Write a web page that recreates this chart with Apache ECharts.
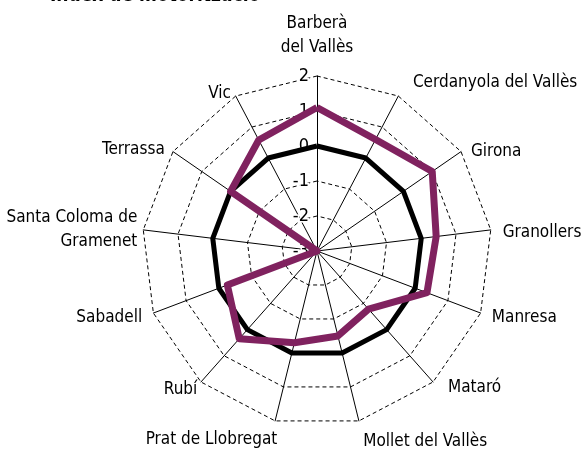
<!DOCTYPE html>
<html>
<head>
<meta charset="utf-8">
<script src="https://cdn.jsdelivr.net/npm/echarts@6/dist/echarts.min.js"></script>
<style>
  html, body { margin: 0; padding: 0; background: #fff; }
  #main { width: 581px; height: 449px; }
</style>
</head>
<body>
<div id="main"></div>
<script>
// municipis (eixos del radar, en sentit horari des de dalt)
var municipis = [
  "Barberà\ndel Vallès", "Cerdanyola del Vallès", "Girona", "Granollers",
  "Manresa", "Mataró", "Mollet del Vallès", "Prat de Llobregat", "Rubí",
  "Sabadell", "Santa Coloma de\nGramenet", "Terrassa", "Vic"
];
// valors estandarditzats
var referencia = [0, 0, 0, 0, 0, 0, 0, 0, 0, 0, 0, 0, 0];
var motoritzacio = [1.1, 0.6, 1.0, 0.43, 0.36, -0.78, -0.5, -0.3, 0.35, -0.26, -3, 0.0, 0.58];
var escalaMin = -3;
var escalaMax = 2;

var font = "'DejaVu Sans Condensed', 'Liberation Sans Narrow', sans-serif";

// petits ajustos de la posicio de cada nom
var ajustNoms = [
  { gap: 16 },
  { gap: 12, va: "bottom", lh: 6, pad: [0, 0, 0, 9] },
  { gap: 12, va: "top", lh: 14 },
  { gap: 12, va: "top", lh: 8 },
  { gap: 12 },
  { gap: 12, va: "bottom", lh: 6, pad: [0, 0, 0, 7] },
  { gap: 18, va: "top", lh: 6 },
  { gap: 16, va: "top", lh: 6, pad: [0, -6, 0, 0] },
  { gap: 10, pad: [0, -3, 0, 0] },
  { gap: 12 },
  { gap: 6 },
  { gap: 10, va: "top", lh: 8 },
  { gap: 10, va: "top", lh: 12 }
];

// el radar d'echarts va en sentit antihorari: es giren els eixos 1..n
function horari(arr) {
  return [arr[0]].concat(arr.slice(1).reverse());
}

var ajustHorari = horari(ajustNoms);
var indicadors = horari(municipis).map(function (m, i) {
  var a = ajustHorari[i];
  var estil = {};
  if (a.va) { estil.verticalAlign = a.va; estil.lineHeight = a.lh; }
  if (a.pad) { estil.padding = a.pad; }
  var ind = { name: m, min: escalaMin, max: escalaMax, nameGap: a.gap, nameTextStyle: estil };
  if (i === 0) {
    ind.axisLabel = { show: true };
  }
  return ind;
});

var chart = echarts.init(document.getElementById("main"));
chart.setOption({
  animation: false,
  title: {
    text: "Índex de motorització",
    left: 45,
    top: -18,
    textStyle: { fontFamily: font, fontSize: 19, fontWeight: "bold", color: "#000" }
  },
  radar: {
    center: [317, 251],
    radius: 175,
    startAngle: 90,
    splitNumber: 5,
    shape: "polygon",
    nameGap: 12,
    axisName: {
      color: "#000",
      fontFamily: font,
      fontSize: 17,
      lineHeight: 24
    },
    axisLine: { lineStyle: { color: "#000", width: 1 } },
    splitLine: { lineStyle: { color: "#000", width: 1, type: [4, 3] } },
    splitArea: { show: false },
    axisTick: { show: false },
    axisLabel: {
      show: false,
      color: "#000",
      fontFamily: font,
      fontSize: 18,
      margin: 8,
      textBorderColor: "#fff",
      textBorderWidth: 3
    },
    indicator: indicadors
  },
  series: [{
    type: "radar",
    symbol: "none",
    data: [
      {
        name: "Referència",
        value: horari(referencia),
        lineStyle: { color: "#000", width: 5 }
      },
      {
        name: "Índex de motorització",
        value: horari(motoritzacio),
        lineStyle: { color: "#80225f", width: 7 }
      }
    ]
  }]
});
</script>
</body>
</html>
